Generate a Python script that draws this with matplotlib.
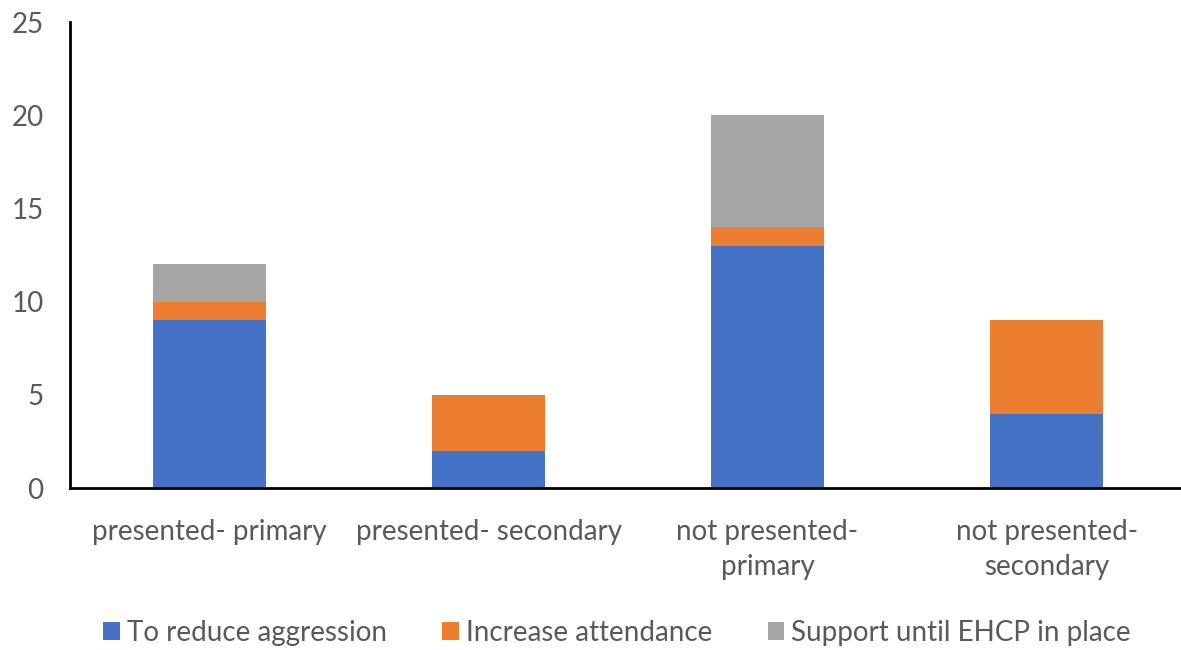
import matplotlib.pyplot as plt
import numpy as np

categories = ['presented- primary', 'presented- secondary',
              'not presented-\nprimary', 'not presented-\nsecondary']
aggression = [9, 2, 13, 4]
attendance = [1, 3, 1, 5]
ehcp_support = [2, 0, 6, 0]

series = [('To reduce aggression', aggression, '#4472C4'),
          ('Increase attendance', attendance, '#ED7D31'),
          ('Support until EHCP in place', ehcp_support, '#A5A5A5')]

plt.rcParams['font.family'] = ['Lato', 'DejaVu Sans']
text_color = '#595959'

fig = plt.figure(figsize=(11.81, 6.5), dpi=100)
ax = fig.add_axes([0.0593, 0.249, 0.945, 0.717])

x = np.arange(len(categories))
bottom = np.zeros(len(categories))
for label, vals, color in series:
    vals = np.array(vals, dtype=float)
    ax.bar(x, vals, 0.405, bottom=bottom, color=color, label=label, zorder=2)
    bottom += vals

ax.set_xlim(-0.5, 3.5)
ax.set_ylim(0, 25)
ax.set_yticks([0, 5, 10, 15, 20, 25])
ax.set_xticks(x)
ax.set_xticklabels(categories, linespacing=1.45)
ax.tick_params(axis='both', length=0, labelsize=20, colors=text_color)
ax.tick_params(axis='y', pad=19)
ax.tick_params(axis='x', pad=22)

for side in ['top', 'right']:
    ax.spines[side].set_visible(False)
for side in ['left', 'bottom']:
    ax.spines[side].set_linewidth(2)
    ax.spines[side].set_color('black')

leg = ax.legend(loc='center', bbox_to_anchor=(0.49, -0.31), ncol=3,
                frameon=False, fontsize=20, handlelength=0.6, handleheight=0.6,
                handletextpad=0.25, columnspacing=2.0)
for t in leg.get_texts():
    t.set_color(text_color)

fig.savefig('out.png', dpi=100)
